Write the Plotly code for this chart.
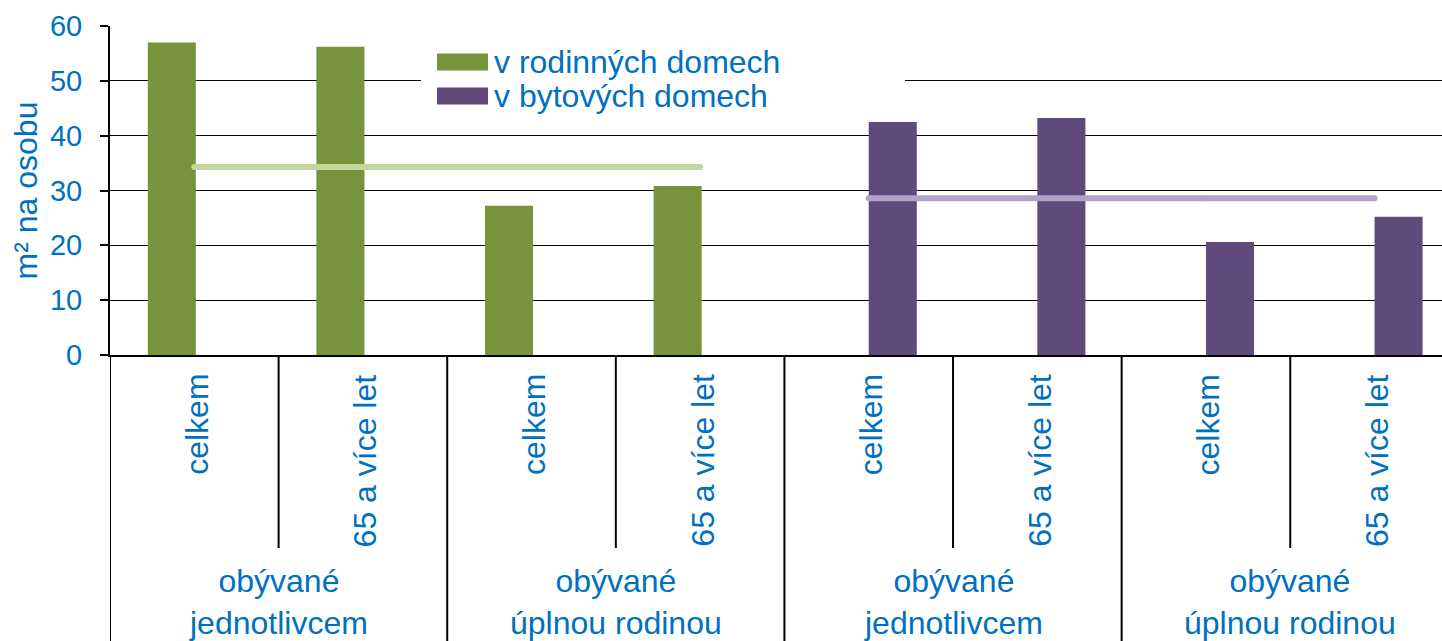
import plotly.graph_objects as go

# ---- data ----
inner_labels = ["celkem", "65 a více let", "celkem", "65 a více let",
                "celkem", "65 a více let", "celkem", "65 a více let"]
outer_labels = ["obývané<br>jednotlivcem", "obývané<br>úplnou rodinou",
                "obývané<br>jednotlivcem", "obývané<br>úplnou rodinou"]
x_rodinne = [0, 1, 2, 3]
v_rodinne = [57.0, 56.2, 27.2, 30.8]
x_bytove = [4, 5, 6, 7]
v_bytove = [42.5, 43.2, 20.6, 25.2]
avg_rodinne = [34.3, 34.3, 34.3, 34.3]
avg_bytove = [28.6, 28.6, 28.6, 28.6]
series_names = ["v rodinných domech", "v bytových domech"]
y_ticks = [0, 10, 20, 30, 40, 50, 60]

GREEN = "#77933c"
PURPLE = "#604a7b"
LGREEN = "#c3d69b"
LPURPLE = "#b3a2c7"
BLUE = "#0070c0"
FONT = "Liberation Sans, Arial, sans-serif"

W, H = 1442, 641
ML, MR, MT, MB = 110, 0, 26, 286
PH = H - MT - MB
PW = W - ML - MR

def py(pix):
    """pixel y -> paper y"""
    return (H - MB - pix) / PH

def px(pix):
    return (pix - ML) / PW

fig = go.Figure()
fig.add_trace(go.Bar(x=x_rodinne, y=v_rodinne, name=series_names[0],
                     marker=dict(color=GREEN, line=dict(width=0)),
                     width=0.285, offset=-0.276, showlegend=False))
fig.add_trace(go.Bar(x=x_bytove, y=v_bytove, name=series_names[1],
                     marker=dict(color=PURPLE, line=dict(width=0)),
                     width=0.285, offset=0.0, showlegend=False))
fig.add_trace(go.Scatter(x=x_rodinne, y=avg_rodinne, mode="lines+markers",
                         line=dict(color=LGREEN, width=6),
                         marker=dict(color=LGREEN, size=6, line=dict(width=0)),
                         showlegend=False, hoverinfo="skip"))
fig.add_trace(go.Scatter(x=x_bytove, y=avg_bytove, mode="lines+markers",
                         line=dict(color=LPURPLE, width=6),
                         marker=dict(color=LPURPLE, size=6, line=dict(width=0)),
                         showlegend=False, hoverinfo="skip"))

shapes = []
annotations = []

# category dividers below the axis
n = len(inner_labels)
for i in range(n):
    xb = i - 0.5
    full = (i % 2 == 0)
    shapes.append(dict(type="line", xref="x", yref="paper", x0=xb, x1=xb,
                       y0=0, y1=py(641) if full else py(548),
                       line=dict(color="black", width=2), layer="above"))

# inner labels (rotated)
for i, lab in enumerate(inner_labels):
    annotations.append(dict(x=i, y=py(372), xref="x", yref="paper",
                            text=lab, textangle=-90, showarrow=False,
                            xanchor="center", yanchor="top", xshift=2,
                            font=dict(family=FONT, size=32, color=BLUE)))
# outer labels
for j, lab in enumerate(outer_labels):
    annotations.append(dict(x=2 * j + 0.5, y=py(602), xref="x", yref="paper",
                            text=lab, showarrow=False,
                            xanchor="center", yanchor="middle",
                            font=dict(family=FONT, size=32, color=BLUE)))

# custom legend
shapes.append(dict(type="rect", xref="paper", yref="paper",
                   x0=px(421), x1=px(905), y0=py(114), y1=py(38),
                   fillcolor="white", line=dict(width=0), layer="above"))
for k, (col, yc) in enumerate([(GREEN, 62), (PURPLE, 96)]):
    shapes.append(dict(type="rect", xref="paper", yref="paper",
                       x0=px(437), x1=px(488),
                       y0=py(yc + 8.5), y1=py(yc - 8.5), fillcolor=col,
                       line=dict(width=0), layer="above"))
    annotations.append(dict(x=px(492), y=py(yc),
                            xref="paper", yref="paper", text=series_names[k],
                            showarrow=False, xanchor="left", yanchor="middle",
                            font=dict(family=FONT, size=32, color=BLUE)))

fig.update_layout(
    width=W, height=H,
    margin=dict(l=ML, r=MR, t=MT, b=MB, pad=0),
    paper_bgcolor="white", plot_bgcolor="white",
    barmode="overlay",
    shapes=shapes, annotations=annotations,
    font=dict(family=FONT, color=BLUE),
    xaxis=dict(range=[-0.5, 7.4], showgrid=False, zeroline=False,
               showticklabels=False, ticks="", showline=True,
               linecolor="black", linewidth=2, fixedrange=True),
    yaxis=dict(range=[0, 60], tickvals=y_ticks, showgrid=True,
               gridcolor="black", gridwidth=1, zeroline=False,
               showline=True, linecolor="black", linewidth=2,
               ticks="outside", ticklen=8, tickcolor="black", tickwidth=2,
               ticklabelstandoff=12,
               tickfont=dict(family=FONT, size=29, color=BLUE),
               title=dict(text="m² na osobu", standoff=3,
                          font=dict(family=FONT, size=32, color=BLUE)),
               automargin=False,
               fixedrange=True),
)

fig.write_html("out.html",
               config={"displayModeBar": False},
               post_script="document.body.style.margin='0px';document.body.style.overflow='hidden';")
